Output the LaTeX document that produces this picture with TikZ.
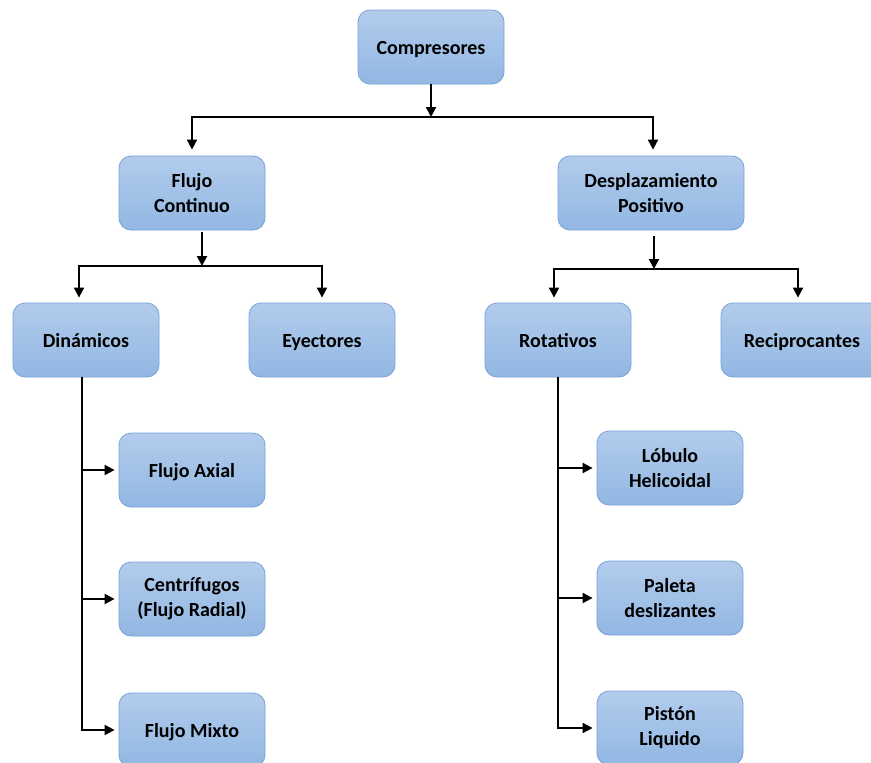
\documentclass[tikz,border=0pt]{standalone}
\usepackage{fontspec}
\setmainfont{Carlito}
\usetikzlibrary{arrows.meta,positioning}
\definecolor{cajaarriba}{RGB}{178,204,236}
\definecolor{cajaabajo}{RGB}{146,183,227}
\definecolor{cajaborde}{RGB}{120,162,214}

\begin{document}
\begin{tikzpicture}[x=1pt,y=-1pt,
    caja/.style={draw=cajaborde, line width=0.8pt, rounded corners=12pt,
        top color=cajaarriba, bottom color=cajaabajo,
        minimum width=146pt, minimum height=74pt, align=center,
        font=\fontsize{20}{25}\selectfont\bfseries},
    simple/.style={caja, text height=15pt, text depth=1pt},
    flecha/.style={line width=2pt, -{Triangle[length=10pt,width=10pt]}}]
    \useasboundingbox (0,0) rectangle (871,763);
    \clip (0,0) rectangle (871,763);

    \node[simple] (comp) at (431,47) {Compresores};
    \node[caja] (fc) at (192,193) {Flujo\\Continuo};
    \node[caja, minimum width=186pt] (dp) at (651,193) {Desplazamiento\\Positivo};
    \node[simple] (din) at (86,340) {Dinámicos};
    \node[simple] (eye) at (322,340) {Eyectores};
    \node[simple] (rot) at (558,340) {Rotativos};
    \node[simple, minimum width=162pt] (rec) at (802,340) {Reciprocantes};
    \node[simple] (fa) at (192,470) {Flujo Axial};
    \node[caja] (cf) at (192,599) {Centrífugos\\(Flujo Radial)};
    \node[simple] (fm) at (192,730) {Flujo Mixto};
    \node[caja] (lh) at (670,468) {Lóbulo\\Helicoidal};
    \node[caja] (pd) at (670,598) {Paleta\\deslizantes};
    \node[caja] (pl) at (670,728) {Pistón\\Liquido};

    \coordinate (j1) at (431,117);
    \coordinate (j2) at (202,266);
    \coordinate (j3) at (654,269);

    \draw[flecha] (comp) -- (j1);
    \draw[flecha, shorten >=6pt] (j1) -| (fc.north);
    \draw[flecha, shorten >=6pt] (j1) -| ([xshift=2pt]dp.north);

    \draw[flecha, shorten <=2pt] ([xshift=10pt]fc.south) -- (j2);
    \draw[flecha, shorten >=5pt] (j2) -| ([xshift=-7pt]din.north);
    \draw[flecha, shorten >=5pt] (j2) -| (eye.north);

    \draw[flecha, shorten <=6pt] ([xshift=3pt]dp.south) -- (j3);
    \draw[flecha, shorten >=5pt] (j3) -| ([xshift=-4pt]rot.north);
    \draw[flecha, shorten >=5pt] (j3) -| ([xshift=-4pt]rec.north);

    \draw[flecha, shorten >=4pt] ([xshift=-4pt]din.south) |- (fa);
    \draw[flecha, shorten >=4pt] ([xshift=-4pt]din.south) |- (cf);
    \draw[flecha, shorten >=4pt] ([xshift=-4pt]din.south) |- (fm);

    \draw[flecha, shorten >=4pt] (rot.south) |- (lh);
    \draw[flecha, shorten >=4pt] (rot.south) |- (pd);
    \draw[flecha, shorten >=4pt] (rot.south) |- (pl);
\end{tikzpicture}
\end{document}
